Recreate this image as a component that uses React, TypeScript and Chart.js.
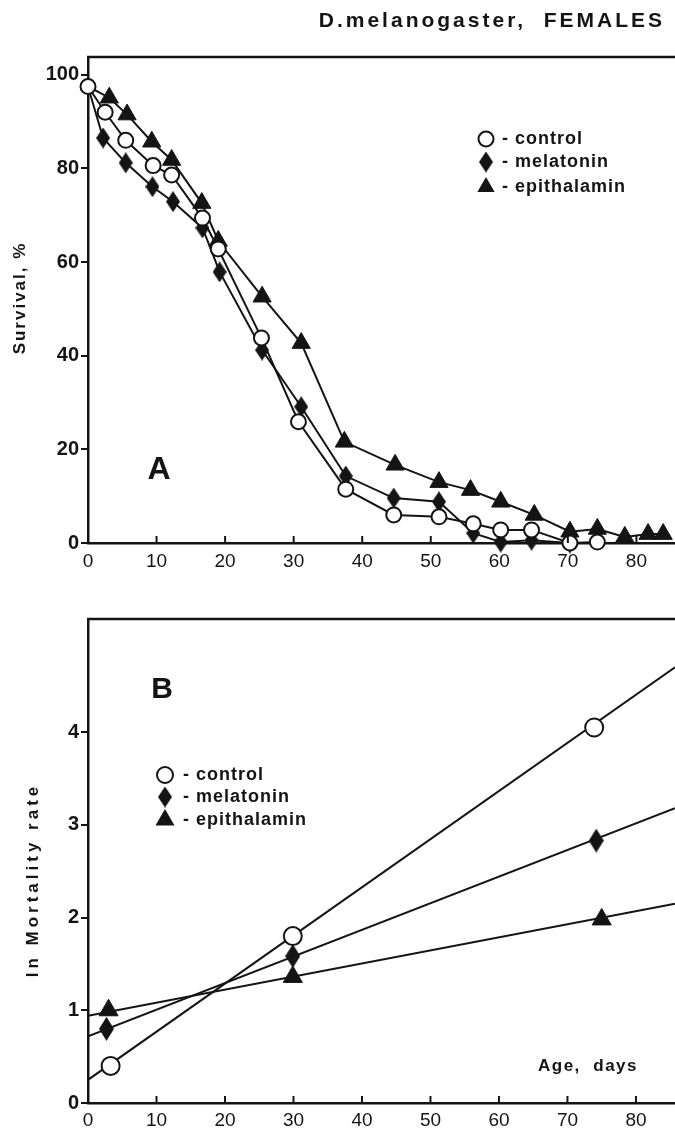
import React, { useEffect, useRef } from 'react';
import { Chart, registerables } from 'chart.js';

Chart.register(...registerables);

const FONT = "'Liberation Sans', Arial, Helvetica, sans-serif";
const INK = '#141414';
const CANVAS_W = 687; // 12px of right-side layout slack falls outside the 675px frame

// ---------- shared axis ----------
const AGE_MAX = 85.7;
const ageTicks = [0, 10, 20, 30, 40, 50, 60, 70, 80];

// ---------- Panel A: Survival, % ----------
const SURV_MAX = 103.8;
const survivalTicks = [0, 20, 40, 60, 80, 100];

const controlDaysA = [0, 2.5, 5.5, 9.5, 12.2, 16.7, 19, 25.3, 30.7, 37.6, 44.6, 51.2, 56.2, 60.2, 64.7, 70.3, 74.3];
const controlSurvival = [97.5, 92, 86, 80.6, 78.6, 69.4, 62.8, 43.8, 25.9, 11.5, 6.0, 5.6, 4.1, 2.8, 2.8, 0, 0.2];

const melatoninDaysA = [0, 2.2, 5.5, 9.4, 12.4, 16.7, 19.2, 25.4, 31.1, 37.6, 44.6, 51.2, 56.2, 60.2, 64.7, 70.3];
const melatoninSurvival = [97.5, 86.5, 81.2, 76.1, 72.9, 67.3, 57.9, 41.2, 29.1, 14.3, 9.6, 8.8, 2.1, 0.2, 0.6, 0];

const epithalaminDaysA = [0, 3.1, 5.7, 9.3, 12.2, 16.6, 19, 25.4, 31.1, 37.4, 44.8, 51.2, 55.8, 60.2, 65.1, 70.3, 74.3, 78.3, 81.7, 83.9];
const epithalaminSurvival = [97.5, 95.1, 91.5, 85.7, 81.8, 72.6, 64.5, 52.6, 42.7, 21.6, 16.7, 13, 11.3, 8.8, 6, 2.4, 3, 1.3, 1.9, 1.9];

// ---------- Panel B: ln Mortality rate ----------
const MORT_MAX = 5.22;
const mortalityTicks = [0, 1, 2, 3, 4];

const controlDaysB = [3.3, 29.9, 73.9];
const controlLnMort = [0.4, 1.8, 4.05];
const melatoninDaysB = [2.7, 29.9, 74.2];
const melatoninLnMort = [0.8, 1.585, 2.83];
const epithalaminDaysB = [3.0, 29.9, 75.0];
const epithalaminLnMort = [1.0, 1.36, 1.98];

const fitDays = [0, 85.7];
const controlFit = [0.25, 4.7];
const melatoninFit = [0.72, 3.18];
const epithalaminFit = [0.94, 2.15];

const legendLabels = ['- control', '- melatonin', '- epithalamin'];

const zip = (xs: number[], ys: number[]) => xs.map((x, i) => ({ x, y: ys[i] }));

function makeDiamond(w: number, h: number) {
  const c = document.createElement('canvas');
  c.width = w;
  c.height = h;
  const ctx = c.getContext('2d')!;
  ctx.fillStyle = INK;
  ctx.beginPath();
  ctx.moveTo(w / 2, 0);
  ctx.lineTo(w, h / 2);
  ctx.lineTo(w / 2, h);
  ctx.lineTo(0, h / 2);
  ctx.closePath();
  ctx.fill();
  return c;
}

type TextItem = {
  text: string;
  x: number;
  y: number;
  size: number;
  spacing: number;
  align?: CanvasTextAlign;
};

type OverlayCfg = {
  texts: TextItem[];
  legend: { x: number; textX: number; rows: number[]; size: number; spacing: number; circleR: number; triR: number; diamond: HTMLCanvasElement };
  yTitle: { text: string; x: number; dy: number; size: number; spacing: number };
};

function overlayPlugin(cfg: OverlayCfg) {
  return {
    id: 'overlay',
    afterDraw(chart: any) {
      const ctx: CanvasRenderingContext2D = chart.ctx;
      const { left, right, top, bottom } = chart.chartArea;
      ctx.save();
      ctx.strokeStyle = INK;
      ctx.fillStyle = INK;
      // top frame line
      ctx.lineWidth = 2.5;
      ctx.beginPath();
      ctx.moveTo(left - 1, top);
      ctx.lineTo(right, top);
      ctx.stroke();
      // inward x ticks
      const xs = chart.scales.x;
      ctx.lineWidth = 2;
      xs.ticks.forEach((t: any) => {
        if (t.value === 0) return;
        const px = xs.getPixelForValue(t.value);
        ctx.beginPath();
        ctx.moveTo(px, bottom);
        ctx.lineTo(px, bottom - 7);
        ctx.stroke();
      });
      // y title (rotated)
      const yt = cfg.yTitle;
      ctx.save();
      ctx.translate(yt.x, (top + bottom) / 2 + yt.dy);
      ctx.rotate(-Math.PI / 2);
      ctx.font = `bold ${yt.size}px ${FONT}`;
      (ctx as any).letterSpacing = `${yt.spacing}px`;
      ctx.textAlign = 'center';
      ctx.textBaseline = 'middle';
      ctx.fillText(yt.text, 0, 0);
      ctx.restore();
      // free texts
      cfg.texts.forEach((t) => {
        ctx.font = `bold ${t.size}px ${FONT}`;
        (ctx as any).letterSpacing = `${t.spacing}px`;
        ctx.textAlign = t.align || 'left';
        ctx.textBaseline = 'middle';
        ctx.fillText(t.text, t.x, t.y);
      });
      // legend
      const lg = cfg.legend;
      lg.rows.forEach((ry, i) => {
        const mx = lg.x;
        if (i === 0) {
          ctx.beginPath();
          ctx.arc(mx, ry, lg.circleR, 0, Math.PI * 2);
          ctx.fillStyle = '#fff';
          ctx.fill();
          ctx.lineWidth = 2;
          ctx.stroke();
          ctx.fillStyle = INK;
        } else if (i === 1) {
          const d = lg.diamond;
          ctx.drawImage(d, mx - d.width / 2, ry - d.height / 2);
        } else {
          const r = lg.triR;
          ctx.beginPath();
          ctx.moveTo(mx, ry - r);
          ctx.lineTo(mx + r * 0.866, ry + r / 2);
          ctx.lineTo(mx - r * 0.866, ry + r / 2);
          ctx.closePath();
          ctx.fill();
        }
        ctx.font = `bold ${lg.size}px ${FONT}`;
        (ctx as any).letterSpacing = `${lg.spacing}px`;
        ctx.textAlign = 'left';
        ctx.textBaseline = 'middle';
        ctx.fillText(legendLabels[i], lg.textX, ry);
      });
      ctx.restore();
    },
  };
}

function baseOptions(yMax: number, yTicks: number[], topPad: number, xAxisH: number, xPad: number) {
  return {
    responsive: false,
    animation: false as const,
    layout: { padding: { top: topPad, left: 0, right: 0, bottom: 0 } },
    plugins: { legend: { display: false }, tooltip: { enabled: false } },
    scales: {
      x: {
        type: 'linear' as const,
        min: 0,
        max: AGE_MAX,
        afterBuildTicks: (s: any) => {
          s.ticks = ageTicks.map((v) => ({ value: v }));
        },
        afterFit: (s: any) => {
          s.height = xAxisH;
          s.paddingLeft = 0;
          s.paddingRight = 0;
        },
        grid: { display: false, drawTicks: false },
        border: { display: true, color: INK, width: 2.5 },
        ticks: { color: INK, font: { family: FONT, size: 19 }, padding: xPad, maxRotation: 0, autoSkip: false },
      },
      y: {
        type: 'linear' as const,
        min: 0,
        max: yMax,
        afterBuildTicks: (s: any) => {
          s.ticks = yTicks.map((v) => ({ value: v }));
        },
        afterFit: (s: any) => {
          s.width = 88;
        },
        grid: { drawOnChartArea: false, drawTicks: true, tickLength: 7, color: INK, lineWidth: 2 },
        border: { display: true, color: INK, width: 2.5 },
        ticks: { color: INK, font: { family: FONT, size: 20, weight: 'bold' as const }, padding: 2, autoSkip: false },
      },
    },
  };
}

export default function App() {
  const refA = useRef<HTMLCanvasElement>(null);
  const refB = useRef<HTMLCanvasElement>(null);

  useEffect(() => {
    const diamondA = makeDiamond(14, 21);
    const diamondB = makeDiamond(15, 24);

    const chartA = new Chart(refA.current!, {
      type: 'line',
      data: {
        datasets: [
          {
            data: zip(controlDaysA, controlSurvival),
            borderColor: INK,
            borderWidth: 2,
            pointStyle: 'circle',
            pointRadius: 7.5,
            pointBackgroundColor: '#fff',
            pointBorderColor: INK,
            pointBorderWidth: 2,
            clip: false,
          },
          {
            data: zip(melatoninDaysA, melatoninSurvival),
            borderColor: INK,
            borderWidth: 2,
            pointStyle: diamondA,
            pointRadius: (c: any) => (c.dataIndex === 0 ? 0 : 8),
            clip: false,
          },
          {
            data: zip(epithalaminDaysA, epithalaminSurvival),
            borderColor: INK,
            borderWidth: 2,
            pointStyle: 'triangle',
            pointRadius: (c: any) => (c.dataIndex === 0 ? 0 : 10.5),
            pointBackgroundColor: INK,
            pointBorderColor: INK,
            pointBorderWidth: 1,
            clip: false,
          },
        ] as any,
      },
      options: baseOptions(SURV_MAX, survivalTicks, 57, 37, 7) as any,
      plugins: [
        overlayPlugin({
          texts: [{ text: 'A', x: 159, y: 470, size: 32, spacing: 0, align: 'center' }],
          legend: { x: 486, textX: 502, rows: [139, 162, 187], size: 18, spacing: 1, circleR: 7.5, triR: 10, diamond: diamondA },
          yTitle: { text: 'Survival, %', x: 20, dy: -2, size: 17, spacing: 2 },
        }) as any,
      ],
    });

    const chartB = new Chart(refB.current!, {
      type: 'line',
      data: {
        datasets: [
          {
            data: zip(controlDaysB, controlLnMort),
            showLine: false,
            pointStyle: 'circle',
            pointRadius: 9,
            pointBackgroundColor: '#fff',
            pointBorderColor: INK,
            pointBorderWidth: 2,
            clip: false,
          },
          {
            data: zip(melatoninDaysB, melatoninLnMort),
            showLine: false,
            pointStyle: diamondB,
            pointRadius: 9,
            clip: false,
          },
          {
            data: zip(epithalaminDaysB, epithalaminLnMort),
            showLine: false,
            pointStyle: 'triangle',
            pointRadius: 11,
            pointBackgroundColor: INK,
            pointBorderColor: INK,
            pointBorderWidth: 1,
            clip: false,
          },
          { data: zip(fitDays, controlFit), borderColor: INK, borderWidth: 2, pointRadius: 0 },
          { data: zip(fitDays, melatoninFit), borderColor: INK, borderWidth: 2, pointRadius: 0 },
          { data: zip(fitDays, epithalaminFit), borderColor: INK, borderWidth: 2, pointRadius: 0 },
        ] as any,
      },
      options: baseOptions(MORT_MAX, mortalityTicks, 39, 29, 6) as any,
      plugins: [
        overlayPlugin({
          texts: [
            { text: 'B', x: 162, y: 110, size: 30, spacing: 0, align: 'center' },
            { text: 'Age,  days', x: 538, y: 486, size: 17, spacing: 1.5, align: 'left' },
          ],
          legend: { x: 165, textX: 183, rows: [195, 217, 240], size: 18, spacing: 1, circleR: 8, triR: 11, diamond: diamondA },
          yTitle: { text: 'ln Mortality rate', x: 33, dy: 19, size: 17, spacing: 4 },
        }) as any,
      ],
    });

    return () => {
      chartA.destroy();
      chartB.destroy();
    };
  }, []);

  return (
    <div style={{ position: 'absolute', left: 0, top: 0, width: 675, height: 1132, background: '#fff', overflow: 'hidden' }}>
      <canvas ref={refA} width={CANVAS_W} height={580} style={{ position: 'absolute', left: 0, top: 0 }} />
      <canvas ref={refB} width={CANVAS_W} height={552} style={{ position: 'absolute', left: 0, top: 580 }} />
      <div
        style={{
          position: 'absolute',
          right: 10,
          top: 8,
          font: `bold 21px ${FONT}`,
          letterSpacing: '3px',
          whiteSpace: 'pre',
          color: INK,
          lineHeight: '24px',
        }}
      >
        D.melanogaster,  FEMALES
      </div>
    </div>
  );
}
